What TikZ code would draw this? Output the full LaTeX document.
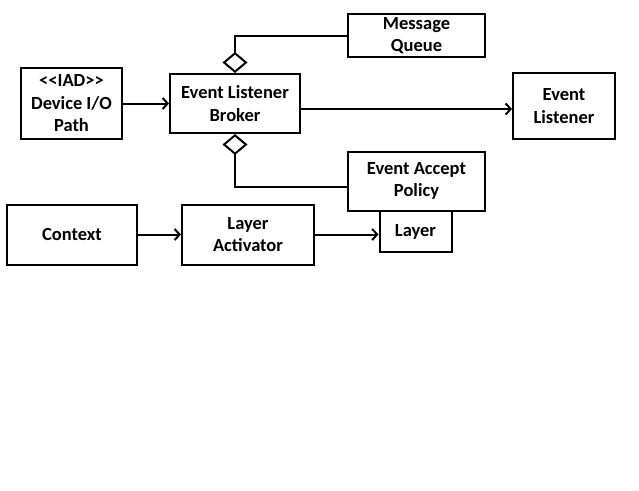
\documentclass[tikz,border=0pt]{standalone}
\usepackage{fontspec}
\setmainfont{Carlito}
\usepackage{tikz}
\usetikzlibrary{positioning, arrows.meta}

\begin{document}
\begin{tikzpicture}[
    x=1pt, y=-1pt,
    cls/.style={draw, line width=2pt, fill=white, align=center, inner sep=1pt, font=\fontsize{18.5}{22.5}\selectfont\bfseries},
    arr/.style={-{Straight Barb[length=5pt, width=11pt]}, line width=2pt},
    agg/.style={{Diamond[open, length=21pt, width=25pt]}-, line width=2pt},
]
\useasboundingbox (0,0) rectangle (639,490);

% top row
\node[cls, minimum width=101pt, minimum height=71pt] (dev) at (71.5,103.5) {<{}<IAD>{}>\\Device I/O\\Path};
\node[cls, minimum width=130pt, minimum height=59pt] (broker) at (235,103.5) {Event Listener\\Broker};
\node[cls, minimum width=137pt, minimum height=43pt] (mq) at (416.5,35.5) {Message\\Queue};
\node[cls, minimum width=102pt, minimum height=66pt] (el) at (564,106) {Event\\Listener};
\node[cls, minimum width=137pt, minimum height=59pt] (eap) at (416.5,181) {Event Accept\\Policy};

% bottom row
\node[cls, minimum width=130pt, minimum height=60pt] (ctx) at (72,234.5) {Context};
\node[cls, minimum width=132pt, minimum height=60pt] (act) at (248,234.5) {Layer\\Activator};
\node[cls, minimum width=72pt, minimum height=41pt] (layer) at (415.5,231.5) {Layer};

% connectors
\draw[arr] (dev.east) -- (broker.west);
\draw[arr] ([yshift=-5.5pt]broker.east) -- ([yshift=-3pt]el.west);
\draw[agg] (broker.north) |- (mq.west);
\draw[agg] (broker.south) |- ([yshift=-6pt]eap.west);
\draw[arr] (ctx.east) -- (act.west);
\draw[arr] (act.east) -- (layer.west |- act.east);

\end{tikzpicture}
\end{document}
